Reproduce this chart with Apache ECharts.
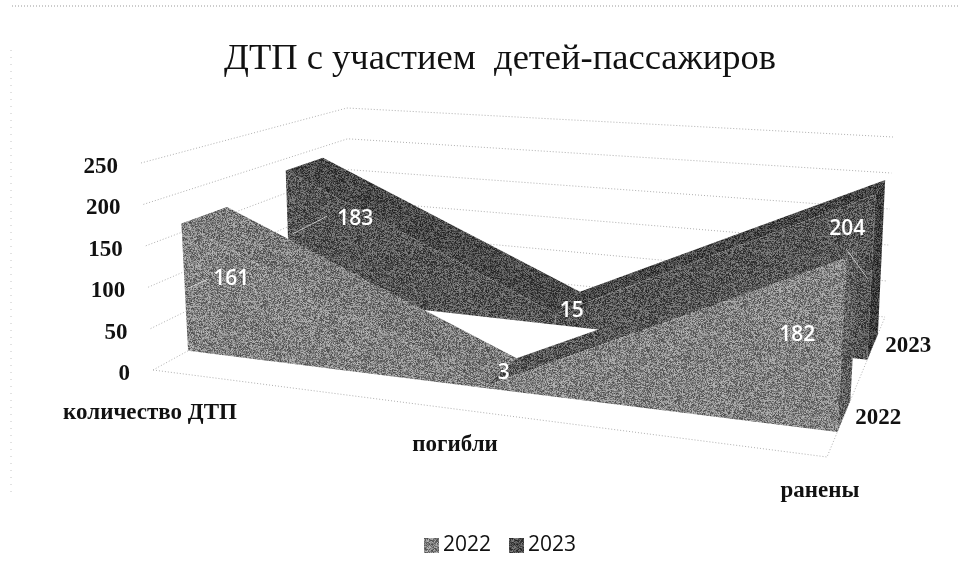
<!DOCTYPE html>
<html><head><meta charset="utf-8">
<style>html,body{margin:0;padding:0;background:#fff}#c{width:968px;height:575px}</style>
<script src="https://cdn.jsdelivr.net/npm/echarts@6/dist/echarts.min.js"></script>
</head><body><div id="c"></div>
<script>
var titleText = 'ДТП с участием  детей-пассажиров';
var categories = ['количество ДТП', 'погибли', 'ранены'];
var seriesNames = ['2022', '2023'];
var values2022 = [161, 3, 182];
var values2023 = [183, 15, 204];
var yTicks = [0, 50, 100, 150, 200, 250];

// box of the 3D plot on the page: front/back, left/right, bottom/top
var BOX = {FLB:[153,370],FLT:[141,163],FRB:[827,457],FRT:[842,204],BLB:[350,262],BLT:[347,108],BRB:[885,317],BRT:[893,137]};
var PERSPECTIVE = 1.174;
var DEPTH = {'2022':[0.178,0.403],'2023':[0.695,0.878]};

function mix(a,b,s){return [a[0]+(b[0]-a[0])*s,a[1]+(b[1]-a[1])*s];}
function grain(mean,amp){
  var n=160,cv=document.createElement('canvas');cv.width=cv.height=n;
  var g=cv.getContext('2d'),im=g.createImageData(n,n),s=12345;
  for(var i=0;i<n*n;i++){
    s=(s*1103515245+12345)&0x7fffffff;
    var r=((s>>>8)&255)/255-0.5;
    var v=Math.max(0,Math.min(255,Math.round(mean+r*amp)));
    im.data[i*4]=im.data[i*4+1]=im.data[i*4+2]=v;im.data[i*4+3]=255;
  }
  g.putImageData(im,0,0);
  return {image:cv,repeat:'repeat'};
}
var FILL = {
  '2022':{front:grain(130,110),fall:grain(124,110),rise:grain(88,100),cap:grain(96,100),swatch:grain(130,110)},
  '2023':{front:grain(86,100),fall:grain(74,90),rise:grain(70,90),cap:grain(62,80),swatch:grain(82,100)}
};
function projector(params,api){
  var cs=params.coordSys;
  return function(c,v,d){
    var p=api.coord([c,v]);
    var u=(p[0]-cs.x)/cs.width, t=(cs.y+cs.height-p[1])/cs.height;
    var U=u/(u+(1-u)*PERSPECTIVE);
    var fb=mix(BOX.FLB,BOX.FRB,U),ft=mix(BOX.FLT,BOX.FRT,U),bb=mix(BOX.BLB,BOX.BRB,U),bt=mix(BOX.BLT,BOX.BRT,U);
    return mix(mix(fb,bb,d),mix(ft,bt,d),t);
  };
}
function poly(points,fill){return {type:'polygon',shape:{points:points},style:{fill:fill,stroke:null}};}
var dotted={stroke:'#b0b0b0',lineWidth:1,lineDash:[1,2],fill:null};

function renderArea(name,params,api){
  var P=projector(params,api),i=api.value(0),n=categories.length,D=DEPTH[name],F=FILL[name],kids=[];
  var vs=name==='2022'?values2022:values2023;
  var f=D[0],b=D[1];
  if(i<n-1){
    var v0=vs[i],v1=vs[i+1];
    kids.push(poly([P(i,v0,f),P(i,v0,b),P(i+1,v1,b),P(i+1,v1,f)],v1>v0?F.rise:F.fall));
    kids.push(poly([P(i,0,f),P(i,v0,f),P(i+1,v1,f),P(i+1,0,f)],F.front));
  } else {
    var v=vs[i];
    kids.push(poly([P(i,v,f),P(i,v,b),P(i,0,b),P(i,0,f)],F.cap));
  }
  return {type:'group',children:kids};
}
function renderWalls(params,api){
  var P=projector(params,api),last=categories.length-1,tick=api.value(1),kids=[];
  kids.push({type:'polyline',shape:{points:[P(0,tick,0),P(0,tick,1),P(last,tick,1)]},style:dotted});
  if(tick===0){
    kids.push({type:'polyline',shape:{points:[P(0,0,0),P(last,0,0),P(last,0,1)]},style:dotted});
  }
  var a=P(0,tick,0);
  kids.push({type:'text',style:{text:String(tick),x:a[0]-23,y:a[1]+4,align:'right',verticalAlign:'middle',
    font:'bold 23px "Liberation Serif"',fill:'#111'}});
  return {type:'group',children:kids};
}
var CAT_OFFSET=[[-3,43],[-8,35],[-7,34]];
function renderCategoryText(params,api){
  var P=projector(params,api),i=api.value(0),a=P(i,0,0),o=CAT_OFFSET[i];
  return {type:'text',style:{text:categories[i],x:a[0]+o[0],y:a[1]+o[1],align:'center',verticalAlign:'middle',
    font:'bold 23px "Liberation Serif"',fill:'#111'}};
}
function renderDepthText(params,api){
  var P=projector(params,api),s=seriesNames[api.value(1)],a=P(categories.length-1,0,DEPTH[s][0]);
  return {type:'text',style:{text:s,x:a[0]+41,y:a[1]-14,align:'center',verticalAlign:'middle',
    font:'bold 23px "Liberation Serif"',fill:'#111'}};
}
// label shift from the middle of the ridge, with its leader line
var LABEL_SHIFT={'2022':[[27,64,[-43,9,-24,0]],[2,1,null],[-56,87,null]],
                 '2023':[[51,55,[-63,15,-28,-3]],[4,8,null],[-33,42,[-1,20,20,49]]]};
function renderValueText(params,api){
  var P=projector(params,api),i=api.value(0),s=seriesNames[api.value(2)],v=api.value(1),D=DEPTH[s];
  var a=P(i,v,(D[0]+D[1])/2),o=LABEL_SHIFT[s][i],x=a[0]+o[0],y=a[1]+o[1],kids=[];
  if(o[2]){var l=o[2];kids.push({type:'line',shape:{x1:x+l[0],y1:y+l[1],x2:x+l[2],y2:y+l[3]},
    style:{stroke:'rgba(255,255,255,0.65)',lineWidth:1}});}
  kids.push({type:'text',style:{text:String(v),x:x,y:y,align:'center',verticalAlign:'middle',
    font:'600 21px "Open Sans"',fill:'#fff'}});
  return {type:'group',children:kids};
}
function pairs(vs){return vs.map(function(v,i){return [i,v];});}
var valueRows=[];
seriesNames.forEach(function(s,k){(k?values2023:values2022).forEach(function(v,i){valueRows.push([i,v,k]);});});

var chart=echarts.init(document.getElementById('c'),null,{renderer:'canvas'});
chart.setOption({
  animation:false,backgroundColor:'#fff',
  title:{text:titleText,left:495,top:36,textAlign:'center',
    textStyle:{fontFamily:'Liberation Serif',fontSize:36.5,fontWeight:'normal',color:'#111'}},
  legend:{data:seriesNames,left:419,top:530,itemWidth:15,itemHeight:15,itemGap:18,icon:'rect',selectedMode:false,
    textStyle:{fontFamily:'Open Sans',fontSize:21,color:'#111',padding:[0,0,0,-1]}},
  grid:{left:153,top:164,width:674,height:204},
  xAxis:{type:'category',data:categories,boundaryGap:false,show:false},
  yAxis:{type:'value',min:0,max:250,interval:50,show:false},
  graphic:[
    {type:'line',shape:{x1:12,y1:6,x2:960,y2:6},style:{stroke:'#999',lineWidth:1,lineDash:[1,2]}},
    {type:'line',shape:{x1:11,y1:50,x2:11,y2:495},style:{stroke:'#c4c4c4',lineWidth:1,lineDash:[1,6]}}
  ],
  series:[
    {type:'custom',name:'grid',silent:true,z:1,data:yTicks.map(function(t){return [0,t];}),renderItem:renderWalls,clip:false},
    {type:'custom',name:'2023',silent:true,z:2,data:pairs(values2023),itemStyle:{color:FILL['2023'].swatch},
      renderItem:function(p,a){return renderArea('2023',p,a);},clip:false},
    {type:'custom',name:'2022',silent:true,z:3,data:pairs(values2022),itemStyle:{color:FILL['2022'].swatch},
      renderItem:function(p,a){return renderArea('2022',p,a);},clip:false},
    {type:'custom',name:'categories',silent:true,z:4,data:categories.map(function(c,i){return [i,0];}),renderItem:renderCategoryText,clip:false},
    {type:'custom',name:'depth',silent:true,z:4,data:seriesNames.map(function(s,k){return [2,k];}),renderItem:renderDepthText,clip:false},
    {type:'custom',name:'values',silent:true,z:5,data:valueRows,renderItem:renderValueText,clip:false}
  ]
});
</script></body></html>
